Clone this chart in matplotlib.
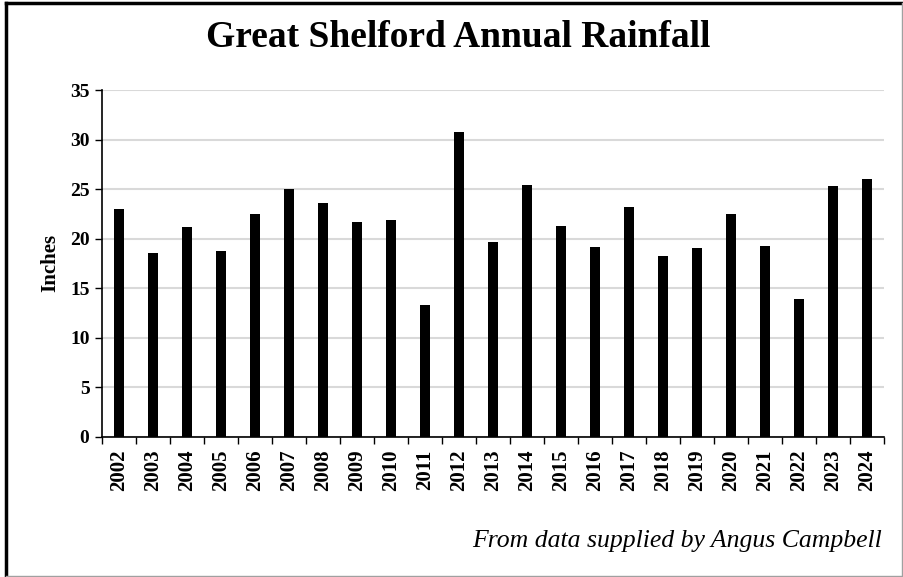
import numpy as np
import matplotlib
matplotlib.use("Agg")
import matplotlib.pyplot as plt
from matplotlib.lines import Line2D

# rainfall
years = [str(y) for y in range(2002, 2025)]
rainfall = [23.0, 18.5, 21.2, 18.7, 22.5, 25.0, 23.6, 21.7, 21.9, 13.3, 30.8, 19.7,
            25.4, 21.3, 19.2, 23.2, 18.2, 19.0, 22.5, 19.3, 13.9, 25.3, 26.0]
y_ticks = [0, 5, 10, 15, 20, 25, 30, 35]

plt.rcParams['font.family'] = ['Liberation Serif', 'DejaVu Serif']

fig = plt.figure(figsize=(9.04, 5.77), dpi=100)
ax = fig.add_axes([0.1128, 0.2432, 0.8650, 0.6008])

x = np.arange(len(years))
ax.bar(x, rainfall, width=0.3, color='black', zorder=3)

ax.set_xlim(-0.5, len(years) - 0.5)
ax.set_ylim(0, 35)
ax.set_yticks(y_ticks)
ax.set_yticklabels([str(v) for v in y_ticks], fontsize=14, fontweight='bold')
ax.yaxis.grid(True, color='#d9d9d9', linewidth=1.5, zorder=0)
ax.tick_params(axis='y', direction='out', length=5, width=1, pad=4)

# category labels at centres, tick marks on the boundaries
ax.set_xticks(x)
ax.set_xticklabels(years, rotation=90, fontsize=15, fontweight='bold')
ax.tick_params(axis='x', which='major', length=0, pad=9)
ax.set_xticks(np.arange(-0.5, len(years), 1), minor=True)
ax.tick_params(axis='x', which='minor', direction='out', length=5, width=1)

for side in ['top', 'right']:
    ax.spines[side].set_visible(False)
ax.spines['left'].set_linewidth(1.2)
ax.spines['bottom'].set_linewidth(1.2)

ax.set_ylabel('Inches', fontsize=15, fontweight='bold', labelpad=7)

fig.text(0.507, 0.935, 'Great Shelford Annual Rainfall', ha='center', va='center',
         fontsize=27, fontweight='bold')
fig.text(0.976, 0.063, 'From data supplied by Angus Campbell', ha='right', va='center',
         fontsize=18.5, style='italic')

# frame: dark top/left, light right/bottom
fig.add_artist(Line2D([0.0066, 0.0066], [0.0, 0.995], color='black', linewidth=2.5,
                      transform=fig.transFigure))
fig.add_artist(Line2D([0.0066, 0.998], [0.994, 0.994], color='black', linewidth=2.5,
                      transform=fig.transFigure))
fig.add_artist(Line2D([0.998, 0.998], [0.0, 0.994], color='#a0a0a0', linewidth=1,
                      transform=fig.transFigure))
fig.add_artist(Line2D([0.0066, 0.998], [0.002, 0.002], color='#a0a0a0', linewidth=1,
                      transform=fig.transFigure))

fig.savefig('out.png', dpi=100)
